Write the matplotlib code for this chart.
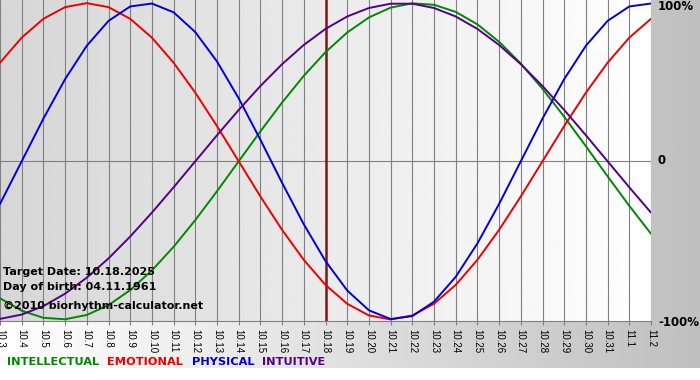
import numpy as np
import matplotlib
matplotlib.use("Agg")
import matplotlib.pyplot as plt

# day labels from 10.3 to 11.2
dates = ["10.3", "10.4", "10.5", "10.6", "10.7", "10.8", "10.9", "10.10", "10.11",
         "10.12", "10.13", "10.14", "10.15", "10.16", "10.17", "10.18", "10.19",
         "10.20", "10.21", "10.22", "10.23", "10.24", "10.25", "10.26", "10.27",
         "10.28", "10.29", "10.30", "10.31", "11.1", "11.2"]
target_label = "10.18"

physical = [-0.2698, 0.0, 0.2698, 0.5196, 0.7308, 0.8879, 0.9791, 0.9977, 0.9423,
            0.8170, 0.6311, 0.3984, 0.1362, -0.1362, -0.3984, -0.6311, -0.8170,
            -0.9423, -0.9977, -0.9791, -0.8879, -0.7308, -0.5196, -0.2698, 0.0,
            0.2698, 0.5196, 0.7308, 0.8879, 0.9791, 0.9977]
emotional = [0.6235, 0.7818, 0.9010, 0.9749, 1.0, 0.9749, 0.9010, 0.7818, 0.6235,
             0.4339, 0.2225, 0.0, -0.2225, -0.4339, -0.6235, -0.7818, -0.9010,
             -0.9749, -1.0, -0.9749, -0.9010, -0.7818, -0.6235, -0.4339, -0.2225,
             0.0, 0.2225, 0.4339, 0.6235, 0.7818, 0.9010]
intellectual = [-0.8660, -0.9450, -0.9898, -0.9989, -0.9718, -0.9096, -0.8146,
                -0.6901, -0.5406, -0.3717, -0.1893, 0.0, 0.1893, 0.3717, 0.5406,
                0.6901, 0.8146, 0.9096, 0.9718, 0.9989, 0.9898, 0.9450, 0.8660,
                0.7557, 0.6182, 0.4582, 0.2817, 0.0951, -0.0951, -0.2817, -0.4582]
intuitive = [-0.9966, -0.9694, -0.9158, -0.8372, -0.7357, -0.6142, -0.4759, -0.3247,
             -0.1646, 0.0, 0.1646, 0.3247, 0.4759, 0.6142, 0.7357, 0.8372, 0.9158,
             0.9694, 0.9966, 0.9966, 0.9694, 0.9158, 0.8372, 0.7357, 0.6142, 0.4759,
             0.3247, 0.1646, 0.0, -0.1646, -0.3247]

series = [("INTELLECTUAL", intellectual, "#008800"),
          ("EMOTIONAL", emotional, "#ee0000"),
          ("PHYSICAL", physical, "#0000dd"),
          ("INTUITIVE", intuitive, "#550088")]

W, H = 700, 380
fig = plt.figure(figsize=(W / 100, H / 100), dpi=100)
fig.patch.set_facecolor("white")

# outer gray gradient (behind everything)
bg = fig.add_axes([0, 0, 1, 1], zorder=-10)
grad = np.linspace(1.0, 0.75, 256)
bg.imshow(np.tile(grad, (2, 1)), cmap="gray", vmin=0, vmax=1, aspect="auto",
          extent=[0, W, 368, 0])
bg.set_xlim(0, W)
bg.set_ylim(H, 0)
bg.axis("off")

# plot area
ax = fig.add_axes([0, 1 - 321 / H, 651 / W, 321 / H])
x = np.arange(len(dates))
ax.set_xlim(0, len(dates) - 1)
ax.set_ylim(-1.01, 1.02)
inner = np.linspace(0.84, 1.0, 256)
ax.imshow(np.tile(inner, (2, 1)), cmap="gray", vmin=0, vmax=1, aspect="auto",
          extent=[0, len(dates) - 1, -1.01, 1.02], zorder=0)

for xi, lab in zip(x, dates):
    if lab == target_label:
        ax.axvline(xi, color="#7a1818", lw=1.8, zorder=3)
    else:
        ax.axvline(xi, color="#808080", lw=0.8, zorder=1)
ax.axhline(0, color="#808080", lw=0.8, zorder=1)

for name, vals, col in series:
    ax.plot(x, vals, color=col, lw=1.4, zorder=4, solid_capstyle="round",
            solid_joinstyle="round")

ax.set_xticks(x)
ax.set_xticklabels(dates, rotation=270, fontsize=7, ha="center", va="top",
                   family="Liberation Sans", color="#000000")
ax.tick_params(axis="x", length=3, width=0.8, color="#808080", pad=3)
ax.set_yticks([])
for s in ["top", "left", "right"]:
    ax.spines[s].set_visible(False)
ax.spines["bottom"].set_color("#808080")
ax.spines["bottom"].set_linewidth(0.8)

# info text
ax.text(3, 272, "Target Date: 10.18.2025", transform=bg.transData, fontsize=8,
        fontweight="bold", va="center", zorder=6)
ax.text(3, 287, "Day of birth: 04.11.1961", transform=bg.transData, fontsize=8,
        fontweight="bold", va="center", zorder=6)
ax.text(3, 306, "\u00a92010 biorhythm-calculator.net", transform=bg.transData,
        fontsize=8, fontweight="bold", va="center", zorder=6)

# right-side labels
bg.text(658, 7, "100%", fontsize=8.5, fontweight="bold", va="center")
bg.text(658, 161, "0", fontsize=8.5, fontweight="bold", va="center")
bg.text(658, 322, "-100%", fontsize=8.5, fontweight="bold", va="center")

# legend row
legend_x = [7, 107, 192, 262]
for (name, vals, col), lx in zip(series, legend_x):
    bg.text(lx, 362, name, color=col, fontsize=8.2, fontweight="bold", va="center")

fig.savefig("out.png", dpi=100)
